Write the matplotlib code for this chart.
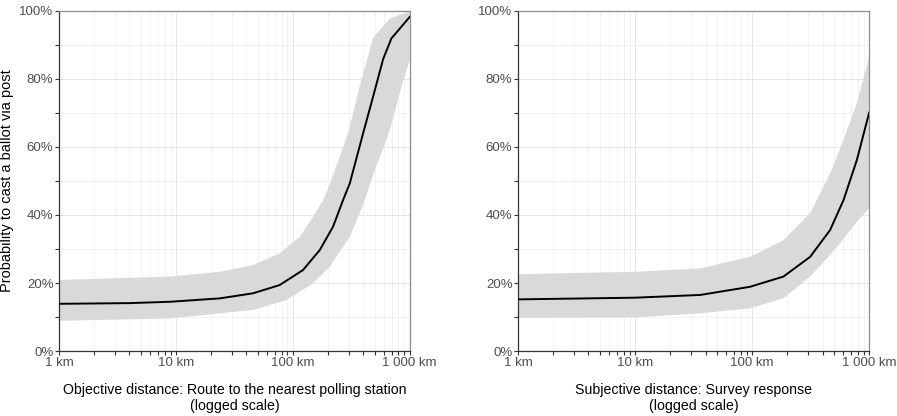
"""
Probability to cast a ballot via post vs distance (two panels).
"""
import matplotlib
matplotlib.use("Agg")
import matplotlib.pyplot as plt
from matplotlib.ticker import FixedLocator, FixedFormatter, NullFormatter

plt.rcParams['font.family'] = ['Liberation Sans', 'DejaVu Sans']

# Objective distance panel (km, probability)
obj_km = [1, 4, 8.9, 23.8, 45.8, 77, 122, 170, 221, 269, 307, 399, 486, 592,
          697, 1000]
obj_fit = [0.139, 0.141, 0.145, 0.155, 0.170, 0.194, 0.238, 0.297, 0.366,
           0.444, 0.493, 0.64, 0.748, 0.858, 0.919, 0.982]
obj_up_km = [1, 8.9, 23.8, 45.8, 77, 115, 149, 182, 207, 297, 374, 486, 592,
             675, 1000]
obj_upper = [0.209, 0.219, 0.233, 0.253, 0.287, 0.336, 0.395, 0.444, 0.49,
             0.64, 0.78, 0.92, 0.955, 0.977, 0.998]
obj_lo_km = [1, 8.9, 45.8, 88, 149, 207, 269, 307, 400, 500, 600, 675, 822,
             937, 1000]
obj_lower = [0.089, 0.096, 0.121, 0.150, 0.199, 0.248, 0.307, 0.336, 0.43,
             0.53, 0.60, 0.65, 0.758, 0.826, 0.855]

# Subjective distance panel
subj_km = [1, 10, 36, 96, 185, 313, 464, 604, 785, 1000]
subj_fit = [0.152, 0.157, 0.165, 0.189, 0.219, 0.277, 0.356, 0.444, 0.562,
            0.701]
subj_up_km = [1, 10, 36, 96, 185, 313, 464, 604, 785, 1000]
subj_upper = [0.226, 0.233, 0.243, 0.277, 0.326, 0.405, 0.522, 0.621, 0.729,
              0.866]
subj_lo_km = [1, 10, 36, 96, 185, 313, 464, 604, 785, 1000]
subj_lower = [0.098, 0.099, 0.111, 0.126, 0.155, 0.219, 0.283, 0.33, 0.38,
              0.42]

x_major = [1, 10, 100, 1000]
x_labels = ['1 km', '10 km', '100 km', '1 000 km']
y_major = [0, 0.2, 0.4, 0.6, 0.8, 1.0]
y_labels = ['0%', '20%', '40%', '60%', '80%', '100%']

panels = [
    (obj_km, obj_fit, obj_up_km, obj_upper, obj_lo_km, obj_lower,
     'Objective distance: Route to the nearest polling station\n(logged scale)'),
    (subj_km, subj_fit, subj_up_km, subj_upper, subj_lo_km, subj_lower,
     'Subjective distance: Survey response\n(logged scale)'),
]

fig = plt.figure(figsize=(8.97, 4.16), dpi=100)
ax_boxes = [[0.0658, 0.156, 0.391, 0.818], [0.5775, 0.156, 0.3915, 0.818]]

x_minor = [m * d for d in (1, 10, 100) for m in range(2, 10)]
y_minor = [0.1, 0.3, 0.5, 0.7, 0.9]

for box, (km, fit, ukm, up, lkm, lo, xlabel) in zip(ax_boxes, panels):
    ax = fig.add_axes(box)
    ax.set_xscale('log')
    ax.set_xlim(1, 1000)
    ax.set_ylim(0, 1)

    # band polygon: upper edge left->right, lower edge right->left
    poly_x = list(ukm) + list(lkm)[::-1]
    poly_y = list(up) + list(lo)[::-1]
    ax.fill(poly_x, poly_y, color='#d9d9d9', lw=0, zorder=2)
    ax.plot(km, fit, color='black', lw=1.4, zorder=3)

    ax.xaxis.set_major_locator(FixedLocator(x_major))
    ax.xaxis.set_major_formatter(FixedFormatter(x_labels))
    ax.xaxis.set_minor_locator(FixedLocator(x_minor))
    ax.xaxis.set_minor_formatter(NullFormatter())
    ax.yaxis.set_major_locator(FixedLocator(y_major))
    ax.yaxis.set_major_formatter(FixedFormatter(y_labels))
    ax.yaxis.set_minor_locator(FixedLocator(y_minor))

    ax.grid(True, which='major', color='#e6e6e6', lw=0.7, zorder=0)
    ax.grid(True, which='minor', color='#ededed', lw=0.5, zorder=0)
    ax.set_axisbelow(True)

    ax.tick_params(which='both', direction='out', length=3, width=0.8,
                   color='#333333', labelsize=9.5, labelcolor='#4d4d4d', pad=1)
    for side in ('left', 'bottom'):
        ax.spines[side].set_color('#333333')
        ax.spines[side].set_linewidth(0.9)
    for side in ('top', 'right'):
        ax.spines[side].set_color('#8c8c8c')
        ax.spines[side].set_linewidth(0.9)

    ax.set_xlabel(xlabel, fontsize=10.2, color='black', labelpad=10,
                  linespacing=1.25)

fig.axes[0].set_ylabel('Probability to cast a ballot via post', fontsize=10.5,
                       labelpad=4)

fig.savefig('out.png', dpi=100)
